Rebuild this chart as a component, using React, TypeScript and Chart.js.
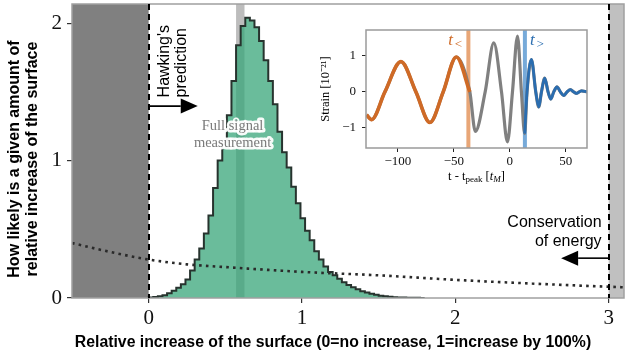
import React, { useEffect, useRef } from "react";
import { Chart, registerables } from "chart.js";

Chart.register(...registerables);

// ---------------- main chart data ----------------
const binEdges = [
  0, 0.03, 0.06, 0.09, 0.12, 0.15, 0.18, 0.21, 0.24, 0.27,
  0.3, 0.33, 0.36, 0.39, 0.42, 0.45, 0.48, 0.51, 0.54, 0.57,
  0.6, 0.63, 0.66, 0.69, 0.72, 0.75, 0.78, 0.81, 0.84, 0.87,
  0.9, 0.93, 0.96, 0.99, 1.02, 1.05, 1.08, 1.11, 1.14, 1.17,
  1.2, 1.23, 1.26, 1.29, 1.32, 1.35, 1.38, 1.41, 1.44, 1.47,
  1.5, 1.53, 1.56, 1.59, 1.62, 1.65, 1.68, 1.71, 1.74, 1.77,
  1.8,
];
const binHeights = [
  0.002, 0.004, 0.007, 0.012, 0.02, 0.034, 0.052, 0.074, 0.1, 0.135,
  0.2, 0.28, 0.36, 0.47, 0.6, 0.8, 1.0, 1.14, 1.33, 1.58,
  1.84, 1.98, 2.04, 2.02, 1.97, 1.87, 1.73, 1.58, 1.41, 1.21,
  1.06, 0.95, 0.81, 0.69, 0.58, 0.49, 0.42, 0.34, 0.28, 0.23,
  0.19, 0.165, 0.14, 0.115, 0.095, 0.078, 0.063, 0.05, 0.04, 0.031,
  0.023, 0.017, 0.012, 0.009, 0.006, 0.004, 0.003, 0.002, 0.001, 0.001,
];
const priorX = [-0.5, -0.25, 0, 0.25, 0.5, 1, 1.5, 2, 2.5, 3, 3.1];
const priorY = [0.4, 0.335, 0.28, 0.245, 0.225, 0.19, 0.165, 0.132, 0.105, 0.082, 0.078];
const xTickValues = [0, 1, 2, 3];
const yTickValues = [0, 1, 2];
const forbiddenLow = [-0.5, 0];
const forbiddenHigh = [3, 3.1];
const fullSignalBand = [0.57, 0.625];

// ---------------- inset data ----------------
const waveT = [
  -128, -123.5, -111.6, -97.3, -83.9, -71.4, -59.5, -47.8, -35.7, -30.8,
  -22, -14.3, -7.4, -2.1, 2.4, 6.9, 10.4, 13.3, 15.4, 19.3,
  23.2, 25.9, 28.3, 31.2, 34.2, 36.6, 39.3, 42.2, 45.2, 48.2,
  51.2, 54.2, 57.1, 59.5, 64, 69,
];
const waveStrain = [
  -0.64, -0.77, 0, 0.84, 0, -0.85, 0, 0.97, 0, -1.1,
  0, 1.36, 0, -1.39, 0, 1.55, 0, -1.16, 0, 0.9,
  0, -0.42, 0, 0.38, 0, -0.2, 0, 0.14, 0, -0.1,
  0, 0.06, 0, -0.04, 0.03, 0,
];
const tLower = -37;
const tUpper = 13.5;
const insetXTicks = [-100, -50, 0, 50];
const insetYTicks = [-1, 0, 1];

const SANS = '"Liberation Sans", Arial, Helvetica, sans-serif';
const SERIF = '"Liberation Serif", "Times New Roman", serif';

function drawArrow(ctx: CanvasRenderingContext2D, x1: number, x2: number, y: number) {
  const dir = x2 > x1 ? 1 : -1;
  const headL = 17;
  const headH = 7.5;
  ctx.save();
  ctx.strokeStyle = "#000";
  ctx.fillStyle = "#000";
  ctx.lineWidth = 1.6;
  ctx.setLineDash([]);
  ctx.beginPath();
  ctx.moveTo(x1, y);
  ctx.lineTo(x2 - dir * headL, y);
  ctx.stroke();
  ctx.beginPath();
  ctx.moveTo(x2, y);
  ctx.lineTo(x2 - dir * headL, y - headH);
  ctx.lineTo(x2 - dir * headL, y + headH);
  ctx.closePath();
  ctx.fill();
  ctx.restore();
}

const mainDecor = {
  id: "mainDecor",
  beforeDatasetsDraw(chart: any) {
    const { ctx, chartArea: a, scales } = chart;
    const x = scales.x;
    ctx.save();
    ctx.fillStyle = "#808080";
    const l0 = x.getPixelForValue(forbiddenLow[0]);
    const l1 = x.getPixelForValue(forbiddenLow[1]);
    ctx.fillRect(l0, a.top, l1 - l0, a.bottom - a.top);
    ctx.fillStyle = "#c0c0c0";
    const r0 = x.getPixelForValue(forbiddenHigh[0]);
    const r1 = x.getPixelForValue(forbiddenHigh[1]);
    ctx.fillRect(r0, a.top, r1 - r0, a.bottom - a.top);
    // full signal band (beneath translucent histogram)
    const b0 = x.getPixelForValue(fullSignalBand[0]);
    const b1 = x.getPixelForValue(fullSignalBand[1]);
    ctx.fillStyle = "#bdbdbd";
    ctx.fillRect(b0, a.top, b1 - b0, a.bottom - a.top);
    ctx.restore();
  },
  afterDatasetsDraw(chart: any) {
    const { ctx, chartArea: a, scales } = chart;
    const x = scales.x;
    const y = scales.y;
    ctx.save();
    // frame
    ctx.strokeStyle = "#a0a0a0";
    ctx.lineWidth = 1.5;
    ctx.strokeRect(a.left, a.top, a.right - a.left, a.bottom - a.top);
    // dashed limit lines
    ctx.strokeStyle = "#000";
    ctx.lineWidth = 2;
    ctx.setLineDash([6, 4]);
    for (const v of [forbiddenLow[1], forbiddenHigh[0]]) {
      const px = Math.round(x.getPixelForValue(v));
      ctx.beginPath();
      ctx.moveTo(px, a.top);
      ctx.lineTo(px, a.bottom);
      ctx.stroke();
    }
    ctx.setLineDash([]);

    // Hawking's prediction
    drawArrow(ctx, x.getPixelForValue(0), x.getPixelForValue(0.32), y.getPixelForValue(1.397));
    ctx.fillStyle = "#000";
    ctx.font = `16px ${SANS}`;
    ctx.textBaseline = "middle";
    ctx.textAlign = "left";
    const hy = y.getPixelForValue(1.46);
    ctx.save();
    ctx.translate(x.getPixelForValue(0.105), hy);
    ctx.rotate(-Math.PI / 2);
    ctx.fillText("Hawking's", 0, 0);
    ctx.restore();
    ctx.save();
    ctx.translate(x.getPixelForValue(0.218), hy);
    ctx.rotate(-Math.PI / 2);
    ctx.fillText("prediction", 0, 0);
    ctx.restore();

    // Conservation of energy
    drawArrow(ctx, x.getPixelForValue(3), x.getPixelForValue(2.69), y.getPixelForValue(0.29));
    ctx.textAlign = "right";
    ctx.fillText("Conservation", x.getPixelForValue(2.954), y.getPixelForValue(0.546));
    ctx.fillText("of energy", x.getPixelForValue(2.954), y.getPixelForValue(0.408));

    // Full signal measurement
    ctx.font = `14.5px ${SERIF}`;
    ctx.textAlign = "center";
    ctx.lineJoin = "round";
    const fx = x.getPixelForValue(0.547);
    const lines: [string, number][] = [["Full signal", 1.252], ["measurement", 1.128]];
    for (const [t, v] of lines) {
      ctx.strokeStyle = "rgba(255,255,255,0.95)";
      ctx.lineWidth = 5;
      ctx.strokeText(t, fx, y.getPixelForValue(v));
    }
    for (const [t, v] of lines) {
      ctx.fillStyle = "#7a7a7a";
      ctx.fillText(t, fx, y.getPixelForValue(v));
    }

    // axis titles
    ctx.fillStyle = "#000";
    ctx.font = `bold 15.8px ${SANS}`;
    ctx.textAlign = "center";
    ctx.fillText("Relative increase of the surface (0=no increase, 1=increase by 100%)", 333, 343);
    ctx.font = `bold 16px ${SANS}`;
    ctx.save();
    ctx.translate(15, 159);
    ctx.rotate(-Math.PI / 2);
    ctx.fillText("How likely is a given amount of", 0, 0);
    ctx.restore();
    ctx.save();
    ctx.translate(33, 159);
    ctx.rotate(-Math.PI / 2);
    ctx.fillText("relative increase of the surface", 0, 0);
    ctx.restore();
    ctx.restore();
  },
};

const insetDecor = {
  id: "insetDecor",
  beforeDraw(chart: any) {
    const { ctx, chartArea: a } = chart;
    ctx.save();
    ctx.fillStyle = "#fff";
    ctx.fillRect(a.left, a.top, a.right - a.left, a.bottom - a.top);
    ctx.restore();
  },
  beforeDatasetsDraw(chart: any) {
    const { ctx, chartArea: a, scales } = chart;
    ctx.save();
    ctx.lineWidth = 4;
    ctx.strokeStyle = "rgba(228,150,95,0.85)";
    let px = scales.x.getPixelForValue(tLower);
    ctx.beginPath();
    ctx.moveTo(px, a.top);
    ctx.lineTo(px, a.bottom);
    ctx.stroke();
    ctx.strokeStyle = "rgba(95,155,210,0.85)";
    px = scales.x.getPixelForValue(tUpper);
    ctx.beginPath();
    ctx.moveTo(px, a.top);
    ctx.lineTo(px, a.bottom);
    ctx.stroke();
    ctx.restore();
  },
  afterDatasetsDraw(chart: any) {
    const { ctx, chartArea: a, scales } = chart;
    const x = scales.x;
    const y = scales.y;
    ctx.save();
    ctx.strokeStyle = "#9a9a9a";
    ctx.lineWidth = 1.5;
    ctx.strokeRect(a.left, a.top, a.right - a.left, a.bottom - a.top);

    // t< and t> labels
    const big = `italic 17px ${SERIF}`;
    const small = `italic 13px ${SERIF}`;
    ctx.textBaseline = "alphabetic";
    ctx.textAlign = "left";
    const ly = y.getPixelForValue(1.3);
    ctx.fillStyle = "#cf6a26";
    ctx.font = big;
    const wt = ctx.measureText("t").width;
    ctx.font = small;
    const ws = ctx.measureText("<").width;
    let sx = x.getPixelForValue(-42) - (wt + 1 + ws);
    ctx.font = big;
    ctx.fillText("t", sx, ly);
    ctx.font = small;
    ctx.fillText("<", sx + wt + 1, ly + 3);
    ctx.fillStyle = "#2a6db0";
    sx = x.getPixelForValue(18);
    ctx.font = big;
    ctx.fillText("t", sx, ly);
    ctx.font = small;
    ctx.fillText(">", sx + wt + 1, ly + 3);

    // y title
    ctx.fillStyle = "#000";
    ctx.font = `12.5px ${SERIF}`;
    ctx.textAlign = "center";
    ctx.textBaseline = "middle";
    ctx.save();
    ctx.translate(16, (a.top + a.bottom) / 2);
    ctx.rotate(-Math.PI / 2);
    ctx.fillText("Strain [10\u207B\u00B2\u00B9]", 0, 0);
    ctx.restore();

    // x title: t - t_peak [t_M]
    const parts: [string, string, number][] = [
      ["t - t", `12.5px ${SERIF}`, 0],
      ["peak", `9px ${SERIF}`, 3],
      [" [", `12.5px ${SERIF}`, 0],
      ["t", `italic 12.5px ${SERIF}`, 0],
      ["M", `italic 9px ${SERIF}`, 3],
      ["]", `12.5px ${SERIF}`, 0],
    ];
    let total = 0;
    for (const [t, f] of parts) {
      ctx.font = f;
      total += ctx.measureText(t).width;
    }
    let cx = (a.left + a.right) / 2 - total / 2;
    const ty = 157;
    ctx.textAlign = "left";
    for (const [t, f, dy] of parts) {
      ctx.font = f;
      ctx.fillText(t, cx, ty + dy);
      cx += ctx.measureText(t).width;
    }
    ctx.restore();
  },
};

function MainChart() {
  const ref = useRef<HTMLCanvasElement | null>(null);
  useEffect(() => {
    if (!ref.current) return;
    const histData = binEdges.map((x, i) => ({ x, y: i < binHeights.length ? binHeights[i] : 0 }));
    const priorData = priorX.map((x, i) => ({ x, y: priorY[i] }));
    const chart = new Chart(ref.current, {
      type: "line",
      data: {
        datasets: [
          {
            label: "posterior",
            data: histData,
            stepped: "after",
            fill: "origin",
            backgroundColor: "rgba(56,166,122,0.75)",
            borderColor: "#27332e",
            borderWidth: 2,
            pointRadius: 0,
            order: 2,
          } as any,
          {
            label: "prior",
            data: priorData,
            borderColor: "#2a2a2a",
            borderWidth: 2.6,
            borderDash: [2.6, 4.2],
            pointRadius: 0,
            cubicInterpolationMode: "monotone",
            fill: false,
            order: 1,
          } as any,
        ],
      },
      options: {
        animation: false,
        responsive: false,
        maintainAspectRatio: false,
        events: [],
        layout: { padding: { top: 4, right: 16, left: 0, bottom: 0 } },
        plugins: { legend: { display: false }, tooltip: { enabled: false } },
        scales: {
          x: {
            type: "linear",
            min: -0.5,
            max: 3.1,
            afterBuildTicks: (s: any) => {
              s.ticks = xTickValues.map((v) => ({ value: v }));
            },
            afterFit: (s: any) => {
              s.height = 62;
              s.paddingLeft = 0;
              s.paddingRight = 0;
            },
            grid: { drawOnChartArea: false, tickLength: 5, color: "#333", lineWidth: 1.2 },
            border: { display: false },
            ticks: {
              autoSkip: false,
              maxRotation: 0,
              padding: 3,
              color: "#111",
              font: { family: SERIF, size: 21 },
              callback: (v: any) => String(v),
            },
          },
          y: {
            type: "linear",
            min: 0,
            max: 2.14,
            afterBuildTicks: (s: any) => {
              s.ticks = yTickValues.map((v) => ({ value: v }));
            },
            afterFit: (s: any) => {
              s.width = 72;
              s.paddingTop = 0;
              s.paddingBottom = 0;
            },
            grid: { drawOnChartArea: false, tickLength: 5, color: "#333", lineWidth: 1.2 },
            border: { display: false },
            ticks: {
              autoSkip: false,
              padding: 5,
              color: "#111",
              font: { family: SERIF, size: 21 },
              callback: (v: any) => String(v),
            },
          },
        },
      } as any,
      plugins: [mainDecor],
    });
    return () => chart.destroy();
  }, []);
  return <canvas ref={ref} width={640} height={360} style={{ position: "absolute", left: 0, top: 0 }} />;
}

function InsetChart() {
  const ref = useRef<HTMLCanvasElement | null>(null);
  useEffect(() => {
    if (!ref.current) return;
    const full = waveT.map((t, i) => ({ x: t, y: waveStrain[i] }));
    const early = full.filter((p) => p.x <= tLower + 1.5);
    const late = full.filter((p) => p.x >= tUpper - 0.5);
    const chart = new Chart(ref.current, {
      type: "line",
      data: {
        datasets: [
          { data: full, borderColor: "#808080", borderWidth: 3.2, pointRadius: 0, cubicInterpolationMode: "monotone", order: 3 } as any,
          { data: early, borderColor: "#cf6a26", borderWidth: 3.6, pointRadius: 0, cubicInterpolationMode: "monotone", order: 2 } as any,
          { data: late, borderColor: "#2a6db0", borderWidth: 2.8, pointRadius: 0, cubicInterpolationMode: "monotone", order: 1 } as any,
        ],
      },
      options: {
        animation: false,
        responsive: false,
        maintainAspectRatio: false,
        events: [],
        layout: { padding: { top: 10, right: 13, left: 0, bottom: 0 } },
        plugins: { legend: { display: false }, tooltip: { enabled: false } },
        scales: {
          x: {
            type: "linear",
            min: -128.5,
            max: 69,
            afterBuildTicks: (s: any) => {
              s.ticks = insetXTicks.map((v) => ({ value: v }));
            },
            afterFit: (s: any) => {
              s.height = 47;
              s.paddingLeft = 0;
              s.paddingRight = 0;
            },
            grid: { drawOnChartArea: false, tickLength: 4, color: "#222", lineWidth: 1 },
            border: { display: false },
            ticks: {
              autoSkip: false,
              maxRotation: 0,
              padding: 2,
              color: "#111",
              font: { family: SERIF, size: 13 },
              callback: (v: any) => String(v).replace("-", "\u2212"),
            },
          },
          y: {
            type: "linear",
            min: -1.56,
            max: 1.72,
            afterBuildTicks: (s: any) => {
              s.ticks = insetYTicks.map((v) => ({ value: v }));
            },
            afterFit: (s: any) => {
              s.width = 56;
              s.paddingTop = 0;
              s.paddingBottom = 0;
            },
            grid: { drawOnChartArea: false, tickLength: 4, color: "#222", lineWidth: 1 },
            border: { display: false },
            ticks: {
              autoSkip: false,
              padding: 6,
              color: "#111",
              font: { family: SERIF, size: 13 },
              callback: (v: any) => String(v).replace("-", "\u2212"),
            },
          },
        },
      } as any,
      plugins: [insetDecor],
    });
    return () => chart.destroy();
  }, []);
  return <canvas ref={ref} width={290} height={175} style={{ position: "absolute", left: 310, top: 20 }} />;
}

export default function App() {
  return (
    <div style={{ position: "fixed", left: 0, top: 0, width: 640, height: 360, background: "#fff", overflow: "hidden" }}>
      <MainChart />
      <InsetChart />
    </div>
  );
}
